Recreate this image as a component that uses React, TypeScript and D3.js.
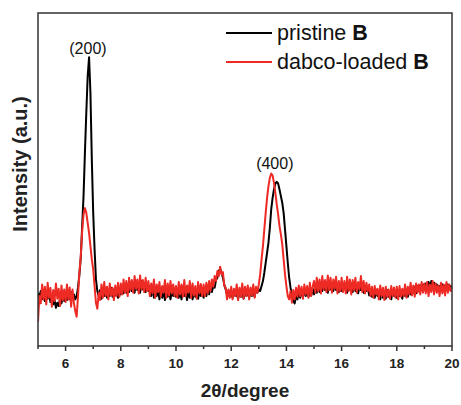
import React from 'react';
import * as d3 from 'd3';

// 2θ scan: start 5°, step 0.05°, 301 points to 20°
const twoThetaStart = 5;
const twoThetaStep = 0.05;

const pristineB: number[] = [
  // 5.00 - 5.95
  160, 145, 165, 140, 158, 135, 155, 142, 160, 132, 145, 125, 138, 115, 130, 120, 142, 128, 150, 135,
  // 6.00 - 6.95
  152, 138, 158, 140, 162, 145, 155, 140, 150, 175, 215, 265, 360, 450, 580, 700, 810, 867, 760, 560,
  // 7.00 - 7.95
  400, 290, 200, 165, 150, 168, 142, 165, 150, 172, 145, 168, 150, 175, 148, 170, 152, 165, 145, 170,
  // 8.00 - 8.95
  155, 178, 158, 182, 160, 185, 162, 190, 165, 178, 160, 192, 168, 185, 160, 195, 170, 188, 162, 185,
  // 9.00 - 9.95
  165, 180, 150, 175, 145, 170, 150, 168, 140, 172, 145, 165, 138, 170, 148, 162, 140, 168, 150, 172,
  // 10.00 - 10.95
  148, 170, 145, 165, 140, 172, 150, 168, 138, 165, 145, 170, 140, 162, 148, 170, 142, 165, 150, 160,
  // 11.00 - 11.95
  145, 168, 150, 172, 155, 175, 162, 180, 175, 198, 205, 225, 232, 220, 205, 185, 170, 155, 165, 148,
  // 12.00 - 12.95
  165, 145, 168, 150, 162, 140, 170, 148, 165, 142, 168, 150, 165, 145, 170, 150, 168, 148, 172, 160,
  // 13.00 - 13.95
  170, 165, 180, 195, 220, 250, 280, 310, 355, 410, 445, 470, 488, 493, 488, 470, 450, 430, 400, 350,
  // 14.00 - 14.95
  300, 250, 205, 175, 150, 135, 128, 150, 140, 162, 145, 165, 148, 168, 150, 170, 148, 165, 152, 172,
  // 15.00 - 15.95
  155, 178, 160, 182, 162, 178, 165, 188, 168, 180, 160, 185, 170, 182, 165, 188, 168, 180, 162, 185,
  // 16.00 - 16.95
  165, 185, 170, 180, 160, 182, 168, 188, 162, 178, 165, 182, 158, 180, 168, 185, 160, 178, 165, 175,
  // 17.00 - 17.95
  152, 170, 148, 165, 145, 168, 150, 162, 140, 165, 145, 160, 142, 168, 148, 160, 140, 165, 150, 162,
  // 18.00 - 18.95
  145, 165, 150, 160, 142, 168, 150, 165, 148, 170, 155, 175, 160, 178, 158, 180, 165, 182, 168, 185,
  // 19.00 - 19.95
  170, 188, 172, 192, 178, 195, 180, 190, 172, 185, 168, 180, 170, 185, 168, 182, 172, 185, 170, 180,
  // 20.00
  178,
];

const dabcoLoadedB: number[] = [
  // 5.00 - 5.95
  72, 150, 128, 185, 140, 178, 125, 190, 145, 175, 118, 168, 135, 188, 142, 172, 120, 182, 138, 170,
  // 6.00 - 6.95
  132, 185, 140, 176, 118, 170, 130, 105, 88, 150, 220, 270, 345, 395, 414, 400, 370, 340, 300, 260,
  // 7.00 - 7.95
  230, 180, 130, 112, 160, 138, 185, 145, 192, 150, 178, 140, 188, 152, 175, 138, 182, 150, 190, 148,
  // 8.00 - 8.95
  188, 155, 200, 160, 195, 150, 205, 168, 198, 160, 210, 172, 200, 158, 212, 170, 198, 162, 205, 165,
  // 9.00 - 9.95
  195, 150, 188, 158, 200, 145, 185, 162, 192, 148, 180, 160, 198, 145, 188, 152, 195, 158, 185, 150,
  // 10.00 - 10.95
  180, 145, 192, 155, 185, 148, 198, 150, 182, 160, 195, 145, 188, 152, 180, 142, 192, 158, 186, 150,
  // 11.00 - 11.95
  185, 150, 190, 158, 195, 165, 200, 178, 210, 195, 225, 210, 238, 215, 222, 180, 175, 140, 170, 145,
  // 12.00 - 12.95
  178, 140, 172, 150, 185, 138, 175, 148, 188, 142, 178, 150, 182, 140, 176, 152, 185, 145, 178, 160,
  // 13.00 - 13.95
  185, 215, 260, 300, 350, 400, 445, 480, 505, 518, 512, 490, 460, 425, 395, 360, 335, 305, 260, 215,
  // 14.00 - 14.95
  180, 150, 140, 165, 130, 168, 140, 175, 148, 182, 150, 178, 142, 185, 155, 180, 145, 190, 150, 178,
  // 15.00 - 15.95
  195, 160, 205, 165, 200, 158, 210, 170, 198, 162, 212, 168, 205, 160, 200, 172, 208, 158, 195, 165,
  // 16.00 - 16.95
  205, 162, 195, 158, 208, 165, 200, 155, 198, 168, 205, 160, 192, 170, 210, 162, 195, 158, 190, 165,
  // 17.00 - 17.95
  185, 150, 178, 145, 180, 155, 172, 140, 182, 150, 175, 138, 178, 148, 170, 142, 180, 150, 176, 145,
  // 18.00 - 18.95
  178, 140, 180, 148, 172, 150, 185, 145, 178, 155, 190, 152, 182, 148, 188, 160, 185, 155, 192, 160,
  // 19.00 - 19.95
  188, 158, 192, 150, 185, 162, 195, 155, 188, 160, 182, 150, 190, 158, 185, 152, 192, 160, 185, 165,
  // 20.00
  175,
];

const majorTicks = [6, 8, 10, 12, 14, 16, 18, 20];
const minorTicks = [5, 7, 9, 11, 13, 15, 17, 19];
const legendLabels = ['pristine ', 'dabco-loaded '];
const legendBold = 'B';
const peakLabels = ['(200)', '(400)'];
const peakLabelX = [6.81, 13.58];
const peakLabelY = [876, 531];

const W = 461;
const H = 405;
const margin = { left: 38, right: 9, top: 13, bottom: 59 };
const FONT = "'Liberation Sans', Arial, Helvetica, sans-serif";

export default function App() {
  const x = d3.scaleLinear().domain([5, 20]).range([margin.left, W - margin.right]);
  const y = d3.scaleLinear().domain([0, 1000]).range([H - margin.bottom, margin.top]);

  const toPts = (arr: number[]) => arr.map((v, i) => [twoThetaStart + i * twoThetaStep, v] as [number, number]);
  const line = d3
    .line<[number, number]>()
    .x((d) => x(d[0]))
    .y((d) => y(d[1]));

  const x0 = x(5);
  const x1 = x(20);
  const yb = y(0);
  const yt = y(1000);

  return (
    <svg width={W} height={H} style={{ position: 'absolute', left: 0, top: 0, background: '#fff' }} fontFamily={FONT}>
      <rect x={0} y={0} width={W} height={H} fill="#fff" />
      <defs>
        <clipPath id="plot">
          <rect x={x0} y={yt} width={x1 - x0} height={yb - yt} />
        </clipPath>
      </defs>
      <g clipPath="url(#plot)">
        <path d={line(toPts(pristineB)) || ''} fill="none" stroke="#000" strokeWidth={2} strokeLinejoin="round" />
        <path d={line(toPts(dabcoLoadedB)) || ''} fill="none" stroke="#ee2a24" strokeWidth={2} strokeLinejoin="round" />
      </g>
      {/* frame */}
      <rect x={x0} y={yt} width={x1 - x0} height={yb - yt} fill="none" stroke="#333" strokeWidth={1.5} />
      {/* ticks */}
      {majorTicks.map((t) => (
        <g key={'M' + t}>
          <line x1={x(t)} x2={x(t)} y1={yb} y2={yb + 5} stroke="#333" strokeWidth={1.5} />
          <text x={x(t)} y={yb + 22} textAnchor="middle" fontSize={13.5} fontWeight="bold" fill="#222">
            {t}
          </text>
        </g>
      ))}
      {minorTicks.map((t) => (
        <line key={'m' + t} x1={x(t)} x2={x(t)} y1={yb} y2={yb + 3} stroke="#333" strokeWidth={1.5} />
      ))}
      {/* axis titles */}
      <text x={(x0 + x1) / 2} y={397} textAnchor="middle" fontSize={19} fontWeight="bold" fill="#222">
        2θ/degree
      </text>
      <text
        transform={`translate(27, 164) rotate(-90)`}
        textAnchor="middle"
        fontSize={20}
        fontWeight="bold"
        fill="#222"
      >
        Intensity (a.u.)
      </text>
      {/* peak labels */}
      {peakLabels.map((l, i) => (
        <text key={l} x={x(peakLabelX[i])} y={y(peakLabelY[i])} textAnchor="middle" fontSize={16} fill="#111">
          {l}
        </text>
      ))}
      {/* legend */}
      {legendLabels.map((l, i) => (
        <g key={l}>
          <line
            x1={226}
            x2={272}
            y1={33 + i * 29}
            y2={33 + i * 29}
            stroke={i === 0 ? '#000' : '#ee2a24'}
            strokeWidth={2}
          />
          <text x={277} y={40 + i * 29} fontSize={21.5} fill="#111">
            {l}
            <tspan fontWeight="bold">{legendBold}</tspan>
          </text>
        </g>
      ))}
    </svg>
  );
}
